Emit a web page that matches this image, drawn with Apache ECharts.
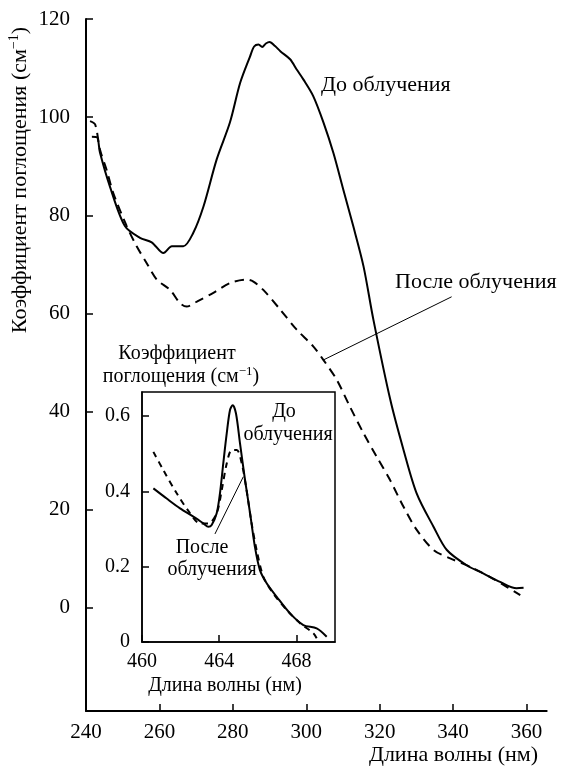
<!DOCTYPE html>
<html><head><meta charset="utf-8">
<script src="https://cdn.jsdelivr.net/npm/echarts@6/dist/echarts.min.js"></script>
<style>html,body{margin:0;padding:0;background:#fff}#c{width:563px;height:771px}</style>
</head><body><div id="c"></div>
<script>
// Main chart: before irradiation (solid)
const mainBeforeX = [241.6,243.0,243.8,246.5,250.6,254.7,257.9,261.1,263.4,266.5,269.2,272.0,275.6,279.2,282.0,284.7,285.8,287.0,288.0,289.0,290.0,291.5,293.0,295.6,297.4,299.2,301.9,304.7,307.4,310.1,312.8,315.6,318.3,322.9,326.5,330.1,334.7,338.3,343.7,348.3,352.8,357.3,359.2];
const mainBeforeY = [96.0,95.9,92.8,85.9,77.8,75.4,74.5,72.3,73.7,73.7,76.4,81.8,91.4,98.9,107.0,112.4,114.4,114.8,114.3,115.0,115.3,114.5,113.4,111.8,109.7,107.7,104.3,98.9,92.7,85.2,77.8,69.6,58.7,42.4,32.2,23.3,16.5,11.8,8.7,7.0,5.3,4.0,4.1];
// Main chart: after irradiation (dashed)
const mainAfterX = [241.1,242.5,243.8,245.6,247.4,251.1,253.8,256.5,259.3,262.9,265.6,267.4,270.2,274.7,279.2,283.8,285.6,288.3,292.9,297.4,301.9,304.7,308.3,311.9,315.6,319.2,322.8,326.5,330.1,334.7,339.2,344.6,350.1,354.6,358.3];
const mainAfterY = [99.2,98.5,93.4,89.3,84.6,77.8,73.7,70.3,66.9,64.8,62.1,61.4,62.4,64.2,66.2,66.9,66.5,64.8,60.8,56.7,53.3,50.5,46.5,41.0,35.6,30.8,26.1,20.6,15.9,11.8,10.1,8.4,6.3,4.3,2.6];
// Inset: before (solid)
const insetBeforeX = [460.59,461.28,461.97,462.66,463.18,463.44,463.61,463.87,464.04,464.21,464.39,464.56,464.70,464.87,465.08,465.34,465.60,465.85,466.11,466.46,466.98,467.67,468.36,469.05,469.57];
const insetBeforeY = [0.408,0.381,0.355,0.333,0.315,0.306,0.311,0.342,0.395,0.474,0.554,0.616,0.629,0.607,0.527,0.430,0.342,0.253,0.191,0.156,0.120,0.076,0.045,0.036,0.014];
// Inset: after (dashed)
const insetAfterX = [460.59,461.10,461.80,462.49,463.00,463.44,463.87,464.13,464.39,464.65,464.91,465.17,465.42,465.68,465.94,466.29,466.80,467.50,468.19,468.88,469.05];
const insetAfterY = [0.505,0.457,0.395,0.342,0.315,0.315,0.342,0.403,0.474,0.510,0.510,0.474,0.403,0.315,0.244,0.173,0.129,0.085,0.050,0.023,0.010];

const mainXTicks = [240,260,280,300,320,340,360];
const mainYTicks = [0,20,40,60,80,100,120];
const insetXTicks = [460,464,468];
const insetYTicks = [0,0.2,0.4,0.6];

const FF = '"Liberation Serif", "DejaVu Serif", serif';
const zip = (xs, ys) => xs.map((x, i) => [x, ys[i]]);

const chart = echarts.init(document.getElementById('c'), null, {renderer:'canvas'});

const option = {
  animation:false,
  backgroundColor:'#fff',
  grid:[
    {left:86, top:19, right:16.3, bottom:60},
    {left:142, top:392, width:193, height:250, show:true, borderColor:'#000', borderWidth:1.5, backgroundColor:'#fff'}
  ],
  xAxis:[
    {type:'value', gridIndex:0, min:240, max:365.5, splitLine:{show:false},
      axisLine:{onZero:false, lineStyle:{color:'#000', width:2}},
      axisTick:{inside:true, length:7, customValues:mainXTicks, lineStyle:{color:'#000', width:1.5}},
      axisLabel:{customValues:mainXTicks, color:'#000', fontFamily:FF, fontSize:21, margin:11}},
    {type:'value', gridIndex:1, min:460, max:470, splitLine:{show:false},
      axisLine:{onZero:false, lineStyle:{color:'#000', width:1.5}},
      axisTick:{inside:true, length:7, customValues:insetXTicks, lineStyle:{color:'#000', width:1.5}},
      axisLabel:{customValues:insetXTicks, color:'#000', fontFamily:FF, fontSize:20, margin:10}}
  ],
  yAxis:[
    {type:'value', gridIndex:0, min:-21, max:120, splitLine:{show:false},
      axisLine:{onZero:false, lineStyle:{color:'#000', width:2}},
      axisTick:{inside:true, length:7, customValues:mainYTicks, lineStyle:{color:'#000', width:1.5}},
      axisLabel:{customValues:mainYTicks, color:'#000', fontFamily:FF, fontSize:21, margin:16}},
    {type:'value', gridIndex:1, min:0, max:0.664, splitLine:{show:false},
      axisLine:{onZero:false, lineStyle:{color:'#000', width:1.5}},
      axisTick:{inside:true, length:7, customValues:insetYTicks, lineStyle:{color:'#000', width:1.5}},
      axisLabel:{customValues:insetYTicks, color:'#000', fontFamily:FF, fontSize:20, margin:12,
        formatter:v => v === 0 ? '0' : v.toFixed(1)}}
  ],
  series:[
    {type:'line', xAxisIndex:0, yAxisIndex:0, data:zip(mainBeforeX, mainBeforeY), showSymbol:false, smooth:0.3,
      lineStyle:{color:'#000', width:2}},
    {type:'line', xAxisIndex:0, yAxisIndex:0, data:zip(mainAfterX, mainAfterY), showSymbol:false, smooth:0.3,
      lineStyle:{color:'#000', width:2, type:[9,6]}},
    {type:'line', xAxisIndex:1, yAxisIndex:1, data:zip(insetBeforeX, insetBeforeY), showSymbol:false, smooth:0.3,
      lineStyle:{color:'#000', width:2}},
    {type:'line', xAxisIndex:1, yAxisIndex:1, data:zip(insetAfterX, insetAfterY), showSymbol:false, smooth:0.3,
      lineStyle:{color:'#000', width:2, type:[6,5]}}
  ]
};
chart.setOption(option);

// Annotation leader lines anchored in data coordinates
const p1 = chart.convertToPixel({xAxisIndex:0, yAxisIndex:0}, [339.6, 63.4]);
const p2 = chart.convertToPixel({xAxisIndex:0, yAxisIndex:0}, [304.6, 50.5]);
const q1 = chart.convertToPixel({xAxisIndex:1, yAxisIndex:1}, [463.78, 0.287]);
const q2 = chart.convertToPixel({xAxisIndex:1, yAxisIndex:1}, [465.25, 0.439]);

function txt(text, x, y, fs, align){
  return {type:'text', x:x, y:y, z:100, style:{text:text, fill:'#000', font:fs+'px '+FF, textAlign:align||'center', textVerticalAlign:'middle'}};
}
chart.setOption({
  graphic:[
    {type:'text', x:20, y:180, rotation:Math.PI/2, z:100,
      style:{text:'{a|Коэффициент поглощения (см}{s|−1}{a|)}', fill:'#000', textAlign:'center', textVerticalAlign:'middle',
        rich:{a:{fontFamily:FF, fontSize:22, fill:'#000'}, s:{fontFamily:FF, fontSize:14, fill:'#000', padding:[0,0,11,0]}}}},
    txt('Длина волны (нм)', 538, 755, 22, 'right'),
    txt('До облучения', 321, 85, 22, 'left'),
    txt('После облучения', 395, 282, 22, 'left'),
    {type:'line', z:100, shape:{x1:p1[0], y1:p1[1], x2:p2[0], y2:p2[1]}, style:{stroke:'#000', lineWidth:1}},
    txt('Коэффициент', 177, 354, 20),
    {type:'text', x:181, y:377, z:100,
      style:{text:'{a|поглощения (см}{s|−1}{a|)}', fill:'#000', textAlign:'center', textVerticalAlign:'middle',
        rich:{a:{fontFamily:FF, fontSize:20, fill:'#000'}, s:{fontFamily:FF, fontSize:13, fill:'#000', padding:[0,0,10,0]}}}},
    txt('Длина волны (нм)', 225, 686, 20),
    txt('До', 284, 412, 20),
    txt('облучения', 288, 435, 20),
    txt('После', 202, 548, 20),
    txt('облучения', 212, 570, 20),
    {type:'line', z:100, shape:{x1:q1[0], y1:q1[1], x2:q2[0], y2:q2[1]}, style:{stroke:'#000', lineWidth:1}}
  ]
});
</script>
</body></html>
